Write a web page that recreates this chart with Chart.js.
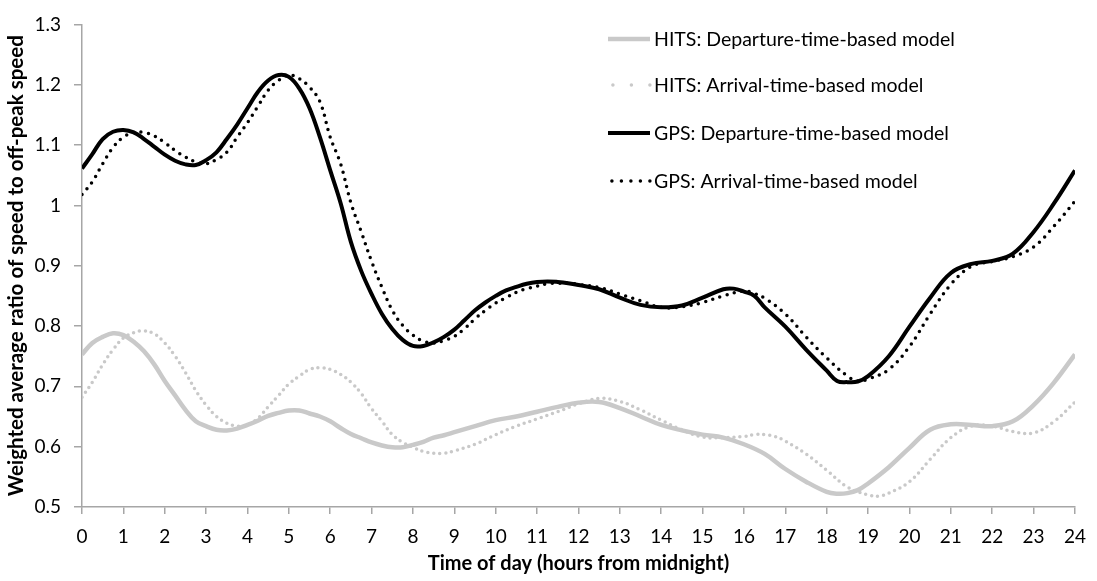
<!DOCTYPE html>
<html>
<head>
  <title>Weighted speed ratio</title>
<script src="https://cdn.jsdelivr.net/npm/chart.js"></script>
<style>
  html, body { margin: 0; padding: 0; background: #fff; }
  #wrap { width: 1097px; height: 581px; }
</style>
</head>
<body>
<div id="wrap">
  <canvas id="myChart" width="1097" height="581"></canvas>
</div>
<script>
// hours from midnight + weighted ratio values
const hitsDepHours = [0,0.25,0.5,0.75,1,1.25,1.5,1.75,2,2.25,2.5,2.75,3,3.25,3.5,3.75,4,4.25,4.5,4.75,5,5.25,5.5,5.75,6,6.25,6.5,6.75,7,7.25,7.5,7.75,8,8.25,8.5,8.75,9,9.5,10,10.5,11,11.5,12,12.5,13,13.5,14,14.5,15,15.5,16,16.5,17,17.5,18,18.25,18.5,18.75,19,19.5,20,20.5,21,21.5,22,22.5,23,23.5,24];
const hitsDep = [0.753,0.772,0.782,0.788,0.785,0.774,0.758,0.736,0.709,0.685,0.661,0.642,0.634,0.628,0.627,0.630,0.636,0.643,0.651,0.656,0.660,0.660,0.655,0.650,0.642,0.631,0.621,0.614,0.607,0.602,0.599,0.599,0.603,0.608,0.615,0.619,0.624,0.634,0.644,0.650,0.658,0.666,0.673,0.674,0.664,0.650,0.636,0.627,0.620,0.615,0.604,0.588,0.563,0.542,0.525,0.522,0.523,0.528,0.539,0.566,0.598,0.628,0.637,0.636,0.634,0.642,0.669,0.707,0.753];

const hitsArrHours = [0,0.25,0.5,0.75,1,1.25,1.5,1.75,2,2.25,2.5,2.75,3,3.25,3.5,3.75,4,4.25,4.5,4.75,5,5.25,5.5,5.75,6,6.25,6.5,6.75,7,7.25,7.5,7.75,8,8.25,8.5,8.75,9,9.5,10,10.5,11,11.5,12,12.5,13,13.5,14,14.5,15,15.5,16,16.25,16.5,16.75,17,17.5,18,18.5,19,19.25,19.5,20,20.5,21,21.5,22,22.5,23,23.5,24];
const hitsArr = [0.682,0.707,0.736,0.761,0.780,0.789,0.792,0.787,0.772,0.750,0.723,0.693,0.669,0.650,0.639,0.634,0.636,0.647,0.666,0.685,0.704,0.717,0.728,0.731,0.728,0.720,0.707,0.688,0.663,0.642,0.620,0.607,0.599,0.592,0.589,0.589,0.593,0.604,0.620,0.634,0.646,0.658,0.671,0.680,0.675,0.661,0.644,0.628,0.616,0.615,0.617,0.620,0.620,0.617,0.609,0.588,0.561,0.533,0.520,0.518,0.523,0.542,0.579,0.615,0.634,0.634,0.625,0.623,0.642,0.674];

const gpsDepHours = [0,0.25,0.5,0.75,1,1.25,1.5,1.75,2,2.25,2.5,2.75,3,3.25,3.5,3.75,4,4.25,4.5,4.75,5,5.25,5.5,5.75,6,6.25,6.5,6.75,7,7.25,7.5,7.75,8,8.25,8.5,8.75,9,9.25,9.5,9.75,10,10.25,10.5,10.75,11,11.25,11.5,11.75,12,12.5,13,13.5,14,14.5,15,15.5,15.75,16,16.25,16.5,17,17.5,18,18.25,18.5,18.75,19,19.5,20,20.5,21,21.5,22,22.5,23,23.5,24];
const gpsDep = [1.061,1.085,1.110,1.122,1.125,1.121,1.110,1.097,1.084,1.074,1.068,1.067,1.075,1.088,1.110,1.134,1.161,1.188,1.207,1.216,1.213,1.194,1.161,1.113,1.058,1.004,0.939,0.891,0.853,0.820,0.795,0.777,0.767,0.767,0.773,0.782,0.794,0.810,0.826,0.839,0.850,0.859,0.865,0.870,0.873,0.874,0.873,0.871,0.868,0.861,0.847,0.835,0.831,0.834,0.847,0.861,0.862,0.857,0.850,0.831,0.799,0.761,0.726,0.709,0.707,0.708,0.717,0.750,0.799,0.847,0.888,0.903,0.908,0.920,0.956,1.004,1.058];

const gpsArrHours = [0,0.25,0.5,0.75,1,1.25,1.5,1.75,2,2.25,2.5,2.75,3,3.25,3.5,3.75,4,4.25,4.5,4.75,5,5.25,5.5,5.75,6,6.25,6.5,6.75,7,7.25,7.5,7.75,8,8.25,8.5,8.75,9,9.25,9.5,9.75,10,10.25,10.5,10.75,11,11.25,11.5,11.75,12,12.5,13,13.5,14,14.5,15,15.5,16,16.25,16.5,17,17.5,18,18.5,18.75,19,19.5,20,20.5,21,21.5,22,22.5,23,23.5,24];
const gpsArr = [1.018,1.039,1.069,1.096,1.113,1.121,1.121,1.115,1.104,1.091,1.080,1.072,1.069,1.076,1.088,1.113,1.137,1.164,1.191,1.207,1.216,1.210,1.196,1.172,1.113,1.069,1.004,0.956,0.907,0.864,0.826,0.801,0.785,0.775,0.772,0.776,0.783,0.796,0.812,0.826,0.838,0.847,0.856,0.862,0.866,0.870,0.871,0.871,0.869,0.864,0.853,0.842,0.831,0.832,0.839,0.850,0.858,0.854,0.846,0.820,0.782,0.747,0.717,0.709,0.712,0.728,0.766,0.820,0.869,0.899,0.907,0.915,0.931,0.966,1.007];

const seriesNames = [
  'HITS: Departure-time-based model',
  'HITS: Arrival-time-based model',
  'GPS: Departure-time-based model',
  'GPS: Arrival-time-based model'
];

const yTicks = { min: 0.5, max: 1.3, step: 0.1 };
const xTicks = { min: 0, max: 24, step: 1 };

const GREY = '#c9c9c9';
const FONT = 'Lato, "Open Sans", sans-serif';

function pts(hours, vals) {
  return hours.map((h, i) => ({ x: h, y: vals[i] }));
}

// legend drawn inside the plot, top right, like the Excel original
const insideLegend = {
  id: 'insideLegend',
  afterDraw(chart) {
    const ctx = chart.ctx;
    const x0 = 608, x1 = 650, textX = 654;
    const rows = [39, 85, 133, 181];
    const samples = [
      { color: GREY, width: 4.5, dash: [] },
      { color: GREY, width: 3.5, dash: [0, 18.5] },
      { color: '#000', width: 4, dash: [] },
      { color: '#000', width: 3.5, dash: [0, 9.5] }
    ];
    ctx.save();
    samples.forEach((s, i) => {
      ctx.beginPath();
      ctx.setLineDash(s.dash);
      ctx.lineCap = s.dash.length ? 'round' : 'butt';
      ctx.strokeStyle = s.color;
      ctx.lineWidth = s.width;
      ctx.moveTo(s.dash.length ? x1 - 0.1 - (s.dash[1] * Math.floor((x1 - x0) / s.dash[1])) : x0, rows[i]);
      ctx.lineTo(x1, rows[i]);
      ctx.stroke();
    });
    ctx.setLineDash([]);
    ctx.fillStyle = '#000';
    ctx.font = '19.5px ' + FONT;
    ctx.textBaseline = 'middle';
    seriesNames.forEach((n, i) => ctx.fillText(n, textX, rows[i] + 1));
    ctx.restore();
  }
};

const config = {
  type: 'line',
  data: {
    datasets: [
      {
        label: seriesNames[0],
        data: pts(hitsDepHours, hitsDep),
        borderColor: GREY,
        borderWidth: 4.5,
        order: 3
      },
      {
        label: seriesNames[1],
        data: pts(hitsArrHours, hitsArr),
        borderColor: GREY,
        borderWidth: 3.5,
        borderDash: [0, 6],
        borderCapStyle: 'round',
        order: 2
      },
      {
        label: seriesNames[2],
        data: pts(gpsDepHours, gpsDep),
        borderColor: '#000',
        borderWidth: 4,
        order: 1
      },
      {
        label: seriesNames[3],
        data: pts(gpsArrHours, gpsArr),
        borderColor: '#000',
        borderWidth: 3.5,
        borderDash: [0, 7.5],
        borderCapStyle: 'round',
        order: 0
      }
    ]
  },
  options: {
    responsive: false,
    animation: false,
    events: [],
    layout: { padding: { top: 14, right: 20, left: 0, bottom: 0 } },
    elements: {
      point: { radius: 0 },
      line: { tension: 0.4, fill: false }
    },
    plugins: {
      legend: { display: false },
      tooltip: { enabled: false }
    },
    scales: {
      x: {
        type: 'linear',
        min: xTicks.min,
        max: xTicks.max,
        afterFit(scale) { scale.height = 74; },
        border: { color: '#a6a6a6', width: 1.5 },
        grid: { drawOnChartArea: false, drawTicks: true, tickLength: 7, color: '#a6a6a6', lineWidth: 1.5 },
        ticks: {
          stepSize: xTicks.step,
          autoSkip: false,
          maxRotation: 0,
          padding: 11,
          color: '#000',
          font: { family: FONT, size: 19 }
        },
        title: {
          display: true,
          text: 'Time of day (hours from midnight)',
          color: '#000',
          font: { family: FONT, size: 20, weight: 'bold' },
          padding: { top: 0, bottom: 5 }
        }
      },
      y: {
        min: yTicks.min,
        max: yTicks.max,
        afterFit(scale) { scale.width = 82; },
        border: { color: '#a6a6a6', width: 1.5 },
        grid: { drawOnChartArea: false, drawTicks: true, tickLength: 8, color: '#a6a6a6', lineWidth: 1.5 },
        ticks: {
          stepSize: yTicks.step,
          padding: 13,
          color: '#000',
          font: { family: FONT, size: 19 },
          callback: v => String(Math.round(v * 10) / 10)
        },
        title: {
          display: true,
          text: 'Weighted average ratio of speed to off-peak speed',
          color: '#000',
          font: { family: FONT, size: 20.5, weight: 'bold' },
          padding: { top: 4, bottom: 0 }
        }
      }
    }
  },
  plugins: [insideLegend]
};

const myChart = new Chart(document.getElementById('myChart'), config);
</script>
</body>
</html>
